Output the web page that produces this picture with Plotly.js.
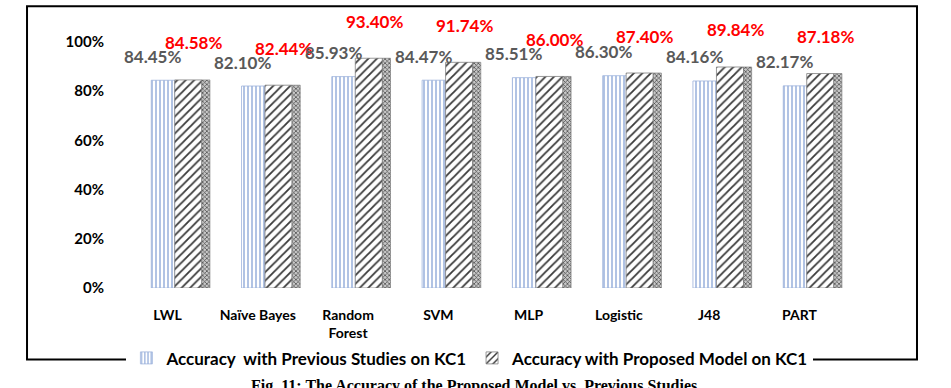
<!DOCTYPE html>
<html>
<head>
<meta charset="utf-8">
<script src="https://cdn.plot.ly/plotly-3.0.1.min.js"></script>
<style>html,body{margin:0;padding:0;background:#fff;}#chart{width:951px;height:388px;}</style>
</head>
<body>
<div id="chart"></div>
<script>
const categories = ["LWL", "Naïve Bayes", "Random<br>Forest", "SVM", "MLP", "Logistic", "J48", "PART"];
const previousStudies = [84.45, 82.10, 85.93, 84.47, 85.51, 86.30, 84.16, 82.17];
const proposedModel = [84.58, 82.44, 93.40, 91.74, 86.00, 87.40, 89.84, 87.18];
const seriesNames = ["Accuracy  with Previous Studies on KC1", "Accuracy with Proposed Model on KC1"];
const yTicks = [0, 20, 40, 60, 80, 100];
const yTickLabels = ["0%", "20%", "40%", "60%", "80%", "100%"];
const caption = "Fig. 11: The Accuracy of the Proposed Model vs. Previous Studies";

const FONT = "Lato, 'Open Sans', sans-serif";

const traces = [
  {
    type: "bar", x: categories, y: previousStudies, name: seriesNames[0],
    offset: -0.18, width: 0.26,
    marker: {
      color: "#ffffff",
      line: {color: "#9db3dc", width: 0.8},
      pattern: {shape: "|", fgcolor: "#7d9bd3", bgcolor: "#ffffff", size: 4, solidity: 0.3}
    },
    hoverinfo: "skip"
  },
  {
    type: "bar", x: categories, y: proposedModel, name: seriesNames[1],
    offset: 0.08, width: 0.30,
    marker: {
      color: "#ffffff",
      line: {color: "#7f7f7f", width: 0.8},
      pattern: {shape: "/", fgcolor: "#3a3a3a", bgcolor: "#ffffff", size: 6, solidity: 0.3}
    },
    hoverinfo: "skip"
  },
  {
    type: "bar", x: categories, y: proposedModel, name: "side", showlegend: false,
    offset: 0.38, width: 0.09,
    marker: {
      color: "#9a9a9a",
      line: {color: "#6f6f6f", width: 0.6},
      pattern: {shape: "x", fgcolor: "#404040", bgcolor: "#c8c8c8", size: 3, solidity: 0.4}
    },
    hoverinfo: "skip"
  }
];

const annotations = [];
categories.forEach((c, i) => {
  annotations.push({
    x: c, y: previousStudies[i], xref: "x", yref: "y",
    text: "<b>" + previousStudies[i].toFixed(2) + "%</b>", showarrow: false,
    xshift: -15, yshift: 24, yanchor: "middle",
    font: {family: FONT, size: 17, color: "#595959"}
  });
  annotations.push({
    x: c, y: proposedModel[i], xref: "x", yref: "y",
    text: "<b>" + proposedModel[i].toFixed(2) + "%</b>", showarrow: false,
    xshift: 26, yshift: 37, yanchor: "middle",
    font: {family: FONT, size: 17, color: "#ff0000"}
  });
});
annotations.push({
  x: 0.48, y: -0.40, xref: "paper", yref: "paper",
  text: "<b>" + caption + "</b>", showarrow: false, yanchor: "middle",
  font: {family: "'Liberation Serif', 'DejaVu Serif', serif", size: 16, color: "#000"}
});

const layout = {
  width: 951, height: 388,
  margin: {l: 122, r: 95, t: 42, b: 98},
  paper_bgcolor: "#fff", plot_bgcolor: "#fff",
  barmode: "overlay",
  showlegend: true,
  legend: {
    orientation: "h", x: 0.474, xanchor: "center", y: -0.286, yanchor: "middle",
    bgcolor: "#ffffff", borderwidth: 0,
    font: {family: FONT, size: 17, color: "#000", weight: "bold"},
    itemwidth: 30, tracegroupgap: 0
  },
  xaxis: {
    type: "category",
    showgrid: false, zeroline: false, showline: false,
    ticks: "outside", ticklen: 14, tickcolor: "rgba(0,0,0,0)",
    tickfont: {family: FONT, size: 14, color: "#000", weight: "bold"},
    tickangle: 0
  },
  yaxis: {
    range: [0, 100], tickvals: yTicks, ticktext: yTickLabels,
    showgrid: false, zeroline: false, showline: false,
    ticks: "outside", ticklen: 14, tickcolor: "rgba(0,0,0,0)",
    tickfont: {family: FONT, size: 15, color: "#000", weight: "bold"}
  },
  shapes: [{
    type: "rect", xref: "paper", yref: "paper",
    x0: -0.1294, x1: 1.0831, y0: -0.2903, y1: 1.1452,
    line: {color: "#000", width: 2}, fillcolor: "rgba(0,0,0,0)", layer: "above"
  }],
  annotations: annotations
};

Plotly.newPlot("chart", traces, layout, {displayModeBar: false, staticPlot: true});
</script>
</body>
</html>
